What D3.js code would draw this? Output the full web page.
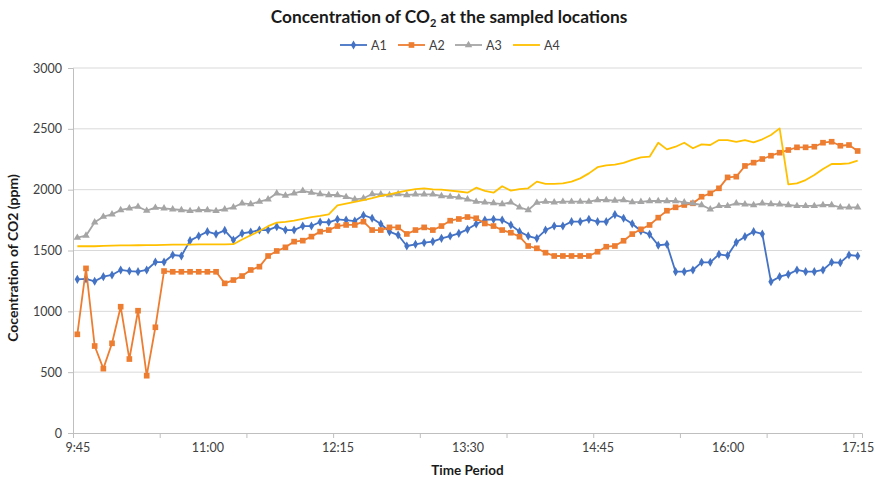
<!DOCTYPE html>
<html>
<head>
<meta charset="utf-8">
<script src="https://cdn.jsdelivr.net/npm/d3@7"></script>
<style>
  html, body { margin: 0; padding: 0; background: #fff; }
  svg { display: block; font-family: Lato, "Open Sans", sans-serif; }
</style>
</head>
<body>
<svg id="chart" width="878" height="480"></svg>
<script>
// Sampling every 5 minutes from 9:45 to 17:15 (91 readings per location)
const startMinutes = 9 * 60 + 45;
const stepMinutes = 5;
const sampleCount = 91;
const timeLabels = ["9:45", "11:00", "12:15", "13:30", "14:45", "16:00", "17:15"];
const yTicks = [0, 500, 1000, 1500, 2000, 2500, 3000];
const seriesNames = ["A1", "A2", "A3", "A4"];

// CO2 readings (ppm)
const a1 = [1263,1266,1247,1285,1299,1340,1331,1326,1340,1405,1405,1463,1455,1581,1619,
            1655,1635,1665,1586,1641,1652,1668,1668,1696,1668,1668,1701,1701,1734,1732,
            1756,1750,1742,1790,1765,1718,1655,1627,1537,1551,1564,1573,1600,1619,1641,
            1674,1718,1751,1756,1751,1710,1655,1619,1600,1668,1701,1701,1737,1737,1756,
            1737,1737,1795,1765,1720,1660,1633,1543,1551,1326,1326,1340,1403,1403,1469,
            1458,1567,1614,1655,1636,1244,1285,1304,1340,1326,1326,1340,1403,1400,1463,1455];
const a2 = [811,1353,715,529,737,1038,608,1005,471,869,1331,1325,1325,1325,1325,
            1325,1325,1230,1257,1290,1340,1367,1455,1496,1526,1573,1581,1614,1655,1668,
            1701,1710,1710,1737,1668,1668,1690,1690,1636,1668,1690,1668,1701,1745,1759,
            1775,1765,1722,1701,1668,1646,1614,1537,1518,1482,1455,1455,1455,1455,1455,
            1490,1531,1537,1580,1635,1674,1710,1770,1827,1855,1874,1888,1942,1970,2011,
            2101,2107,2195,2222,2252,2279,2304,2326,2348,2348,2353,2386,2394,2361,2367,2318];
const a3 = [1605,1622,1732,1778,1797,1833,1847,1860,1827,1852,1847,1839,1833,1825,1833,
            1833,1825,1839,1855,1888,1882,1901,1921,1970,1951,1970,1990,1975,1964,1956,
            1956,1940,1921,1929,1964,1962,1956,1964,1956,1962,1962,1962,1948,1942,1937,
            1921,1901,1895,1890,1882,1896,1855,1833,1893,1901,1896,1901,1901,1901,1901,
            1915,1915,1910,1915,1897,1900,1907,1907,1907,1907,1896,1888,1874,1839,1866,
            1866,1888,1880,1874,1888,1882,1879,1874,1866,1866,1866,1874,1874,1855,1855,1855];
const a4 = [1535,1535,1535,1538,1540,1542,1542,1543,1545,1545,1547,1548,1548,1549,1550,
            1550,1550,1550,1552,1590,1625,1660,1700,1729,1735,1745,1760,1775,1785,1797,
            1870,1885,1900,1915,1930,1948,1962,1977,1992,2005,2011,2003,2000,1992,1985,
            1975,2016,1990,1975,2028,1992,2005,2011,2066,2047,2047,2052,2066,2093,2134,
            2185,2200,2205,2220,2245,2265,2271,2386,2331,2353,2386,2340,2372,2367,2408,
            2408,2392,2408,2389,2414,2449,2504,2044,2052,2079,2120,2170,2211,2211,2216,2238];

const times = d3.range(sampleCount).map(i => {
  const m = startMinutes + i * stepMinutes;
  return Math.floor(m / 60) + ":" + String(m % 60).padStart(2, "0");
});

const series = [
  { name: seriesNames[0], values: a1, color: "#4472C4", symbol: d3.symbolDiamond, size: 24 },
  { name: seriesNames[1], values: a2, color: "#ED7D31", symbol: d3.symbolSquare, size: 32 },
  { name: seriesNames[2], values: a3, color: "#A5A5A5", symbol: d3.symbolTriangle, size: 24 },
  { name: seriesNames[3], values: a4, color: "#FFC000", symbol: null, size: 0 }
];

const svg = d3.select("#chart");
const plot = { left: 73, right: 862, top: 68, bottom: 433 };

// Category axis: each reading sits in the middle of its slot
const x = d3.scaleLinear().domain([-0.5, sampleCount - 0.5]).range([plot.left, plot.right]);
const y = d3.scaleLinear().domain([0, 3000]).range([plot.bottom, plot.top]);

// Horizontal gridlines
svg.append("g")
  .selectAll("line")
  .data(yTicks.filter(v => v > 0))
  .join("line")
  .attr("x1", plot.left).attr("x2", plot.right)
  .attr("y1", d => y(d)).attr("y2", d => y(d))
  .attr("stroke", "#d9d9d9").attr("stroke-width", 1);

// Y axis
const yAxis = svg.append("g")
  .attr("transform", `translate(${plot.left},0)`)
  .call(d3.axisLeft(y).tickValues(yTicks).tickSize(5).tickPadding(6).tickFormat(d3.format("d")));
yAxis.select(".domain").attr("stroke", "#bfbfbf");
yAxis.selectAll(".tick line").attr("stroke", "#bfbfbf");
yAxis.selectAll(".tick text").attr("fill", "#404040").style("font-size", "12.5px").style("font-family", "Lato, sans-serif");

// X axis: tick marks between every 10 slots, labels every 15 readings
const tickBounds = d3.range(0, sampleCount, 10).map(i => i - 0.5);
const xMarks = svg.append("g")
  .attr("transform", `translate(0,${plot.bottom})`)
  .call(d3.axisBottom(x).tickValues(tickBounds).tickSize(5).tickFormat(""));
xMarks.select(".domain").attr("stroke", "#bfbfbf");
xMarks.selectAll(".tick line").attr("stroke", "#bfbfbf");

const labelIdx = timeLabels.map(t => times.indexOf(t));
const xLabels = svg.append("g")
  .attr("transform", `translate(0,${plot.bottom})`)
  .call(d3.axisBottom(x).tickValues(labelIdx).tickSize(0).tickPadding(10).tickFormat(i => times[i]));
xLabels.select(".domain").remove();
xLabels.selectAll(".tick text").attr("fill", "#404040").style("font-size", "12.5px").style("font-family", "Lato, sans-serif");

// Series lines and markers
const line = d3.line().x((d, i) => x(i)).y(d => y(d));
series.forEach(s => {
  const g = svg.append("g");
  g.append("path")
    .datum(s.values)
    .attr("d", line)
    .attr("fill", "none")
    .attr("stroke", s.color)
    .attr("stroke-width", 1.8)
    .attr("stroke-linejoin", "round");
  if (s.symbol) {
    g.selectAll("path.marker")
      .data(s.values)
      .join("path")
      .attr("class", "marker")
      .attr("d", d3.symbol().type(s.symbol).size(s.size))
      .attr("transform", (d, i) => `translate(${x(i)},${y(d)})`)
      .attr("fill", s.color);
  }
});

// Title
const title = svg.append("text")
  .attr("x", 449).attr("y", 23)
  .attr("text-anchor", "middle")
  .style("font-size", "17.3px").style("font-weight", "bold").attr("fill", "#1a1a1a");
title.append("tspan").text("Concentration of CO");
title.append("tspan").text("2").attr("dy", 4).style("font-size", "11px");
title.append("tspan").text(" at the sampled locations").attr("dy", -4);

// Legend
const legendX = [340, 398, 455, 513];
const legend = svg.append("g");
series.forEach((s, k) => {
  const lg = legend.append("g").attr("transform", `translate(${legendX[k]},45)`);
  lg.append("line").attr("x1", 0).attr("x2", 27).attr("y1", 0).attr("y2", 0)
    .attr("stroke", s.color).attr("stroke-width", 1.8);
  if (s.symbol) {
    lg.append("path").attr("d", d3.symbol().type(s.symbol).size(s.size))
      .attr("transform", "translate(13.5,0)").attr("fill", s.color);
  }
  lg.append("text").attr("x", 31).attr("y", 4.5).text(s.name)
    .style("font-size", "12.5px").attr("fill", "#404040");
});

// Axis titles
svg.append("text")
  .attr("transform", `translate(18,258) rotate(-90)`)
  .attr("text-anchor", "middle")
  .style("font-size", "14px").style("font-weight", "bold").attr("fill", "#1a1a1a")
  .text("Cocentration of CO2 (ppm)");

svg.append("text")
  .attr("x", (plot.left + plot.right) / 2).attr("y", 475)
  .attr("text-anchor", "middle")
  .style("font-size", "13.5px").style("font-weight", "bold").attr("fill", "#1a1a1a")
  .text("Time Period");
</script>
</body>
</html>
